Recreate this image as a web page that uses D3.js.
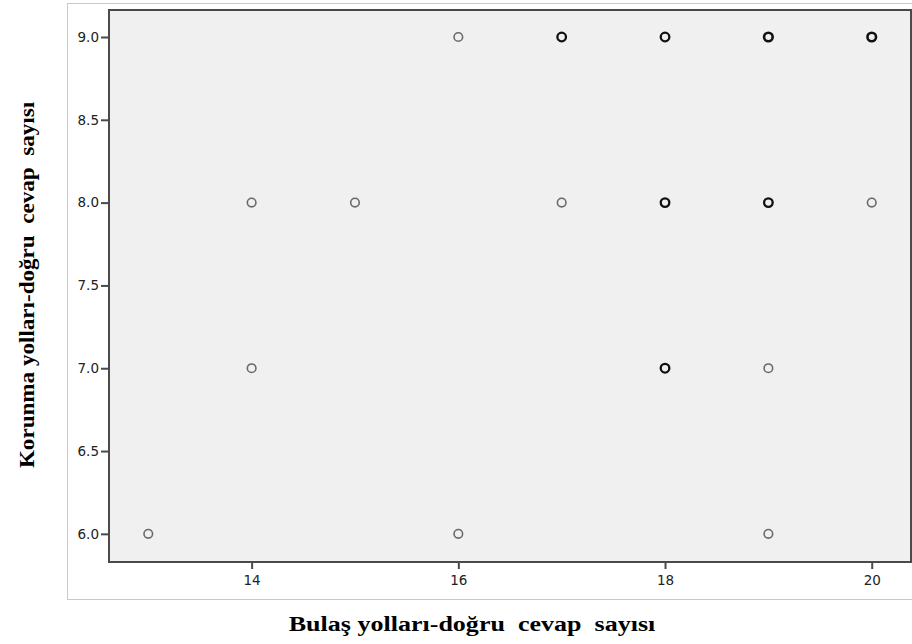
<!DOCTYPE html>
<html>
<head>
<meta charset="utf-8">
<script src="https://cdn.jsdelivr.net/npm/d3@7"></script>
<style>
  body { margin: 0; background: #fff; }
</style>
</head>
<body>
<svg id="chart" width="912" height="644"></svg>
<script>
// points: x value, y value, how many cases sit on that spot
const xValues = [13, 16, 19, 14, 18, 19, 14, 15, 17, 18, 19, 20, 16, 17, 18, 19, 20];
const yValues = [6, 6, 6, 7, 7, 7, 8, 8, 8, 8, 8, 8, 9, 9, 9, 9, 9];
const counts  = [1, 1, 1, 1, 3, 1, 1, 1, 1, 3, 3, 1, 1, 3, 3, 4, 4];
const xTicks = [14, 16, 18, 20];
const yTicks = [6.0, 6.5, 7.0, 7.5, 8.0, 8.5, 9.0];
const xTitle = "Bulaş yolları-doğru\u00a0 cevap\u00a0 sayısı";
const yTitle = "Korunma yolları-doğru\u00a0 cevap\u00a0 sayısı";

const svg = d3.select("#chart");

const plot = { left: 109, top: 10, right: 911, bottom: 562 };

const x = d3.scaleLinear().domain([12.62, 20.38]).range([plot.left, plot.right]);
const y = d3.scaleLinear().domain([5.83, 9.163]).range([plot.bottom, plot.top]);

// outer frame
svg.append("rect")
  .attr("x", 67.5).attr("y", 3.5)
  .attr("width", 850).attr("height", 596)
  .attr("fill", "none").attr("stroke", "#c8c8c8");

// plot background
svg.append("rect")
  .attr("x", plot.left).attr("y", plot.top)
  .attr("width", plot.right - plot.left).attr("height", plot.bottom - plot.top)
  .attr("fill", "#f0f0f0");

const xAxis = svg.append("g")
  .attr("transform", `translate(0,${plot.bottom})`)
  .call(d3.axisBottom(x).tickValues(xTicks).tickSize(7).tickSizeOuter(0).tickFormat(d3.format("d")));

const yAxis = svg.append("g")
  .attr("transform", `translate(${plot.left},0)`)
  .call(d3.axisLeft(y).tickValues(yTicks).tickSize(8).tickSizeOuter(0).tickFormat(d3.format(".1f")));

[xAxis, yAxis].forEach(g => {
  g.select(".domain").remove();
  g.selectAll(".tick line").attr("stroke", "#4a4a4a").attr("stroke-width", 2);
  g.selectAll(".tick text")
    .attr("fill", "#222")
    .style("font-family", "'DejaVu Sans', Verdana, sans-serif")
    .style("font-size", "13.5px");
});
xAxis.selectAll(".tick text").attr("y", 13);
yAxis.selectAll(".tick text").attr("x", -10);

// plot border
svg.append("rect")
  .attr("x", plot.left).attr("y", plot.top)
  .attr("width", plot.right - plot.left).attr("height", plot.bottom - plot.top)
  .attr("fill", "none").attr("stroke", "#4a4a4a").attr("stroke-width", 2);

// markers
const pts = xValues.map((v, i) => ({ x: v, y: yValues[i], n: counts[i] }));
svg.append("g").selectAll("circle")
  .data(pts).enter()
  .append("circle")
    .attr("cx", d => x(d.x))
    .attr("cy", d => y(d.y))
    .attr("r", 4.3)
    .attr("fill", "none")
    .attr("stroke", d => d.n > 1 ? "#111" : "#6a6a6a")
    .attr("stroke-width", d => d.n > 3 ? 2.6 : (d.n > 1 ? 2.3 : 1.6));

// axis titles (the picture stretches them sideways)
svg.append("text")
  .attr("transform", "translate(472,631) scale(1.24,1)")
  .attr("text-anchor", "middle")
  .style("font-family", "'Liberation Serif', 'Times New Roman', serif")
  .style("font-weight", "bold")
  .style("font-size", "21px")
  .text(xTitle);

svg.append("text")
  .attr("transform", "translate(34,285) rotate(-90) scale(1.1,1)")
  .attr("text-anchor", "middle")
  .style("font-family", "'Liberation Serif', 'Times New Roman', serif")
  .style("font-weight", "bold")
  .style("font-size", "21px")
  .text(yTitle);
</script>
</body>
</html>
